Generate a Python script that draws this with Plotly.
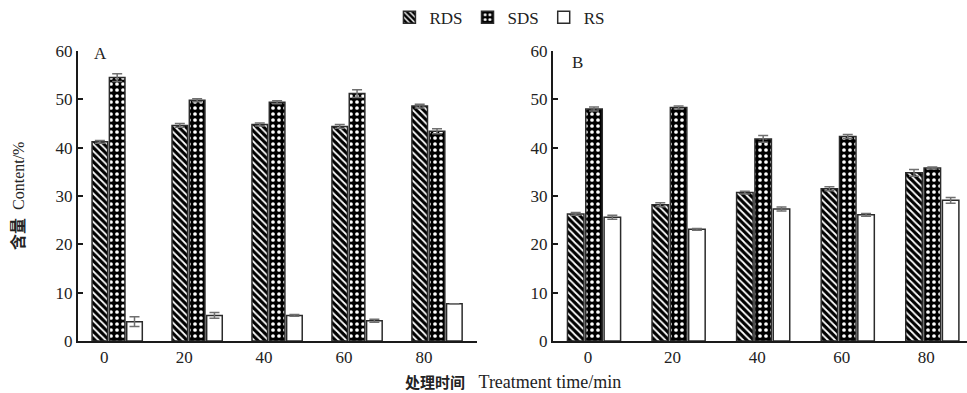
import plotly.graph_objects as go

categories = ["0", "20", "40", "60", "80"]
series_names = ["RDS", "SDS", "RS"]

# Panel A values (%) and standard errors
a_rds = [41.2, 44.6, 44.8, 44.4, 48.6]
a_rds_err = [0.3, 0.4, 0.3, 0.4, 0.4]
a_sds = [54.5, 49.8, 49.4, 51.2, 43.4]
a_sds_err = [0.8, 0.3, 0.3, 0.8, 0.5]
a_rs = [4.0, 5.3, 5.3, 4.2, 7.7]
a_rs_err = [1.0, 0.6, 0.2, 0.3, 0.0]

# Panel B values (%) and standard errors
b_rds = [26.3, 28.2, 30.7, 31.5, 34.8]
b_rds_err = [0.3, 0.4, 0.3, 0.4, 0.7]
b_sds = [48.0, 48.3, 41.8, 42.3, 35.8]
b_sds_err = [0.4, 0.3, 0.7, 0.4, 0.2]
b_rs = [25.6, 23.1, 27.3, 26.1, 29.1]
b_rs_err = [0.4, 0.2, 0.4, 0.3, 0.6]

FONT = "Liberation Serif, Times New Roman, Noto Sans CJK SC, serif"
DARK = "#1a1a1a"
EDGE = "#2b2b2b"
ERR = "#6f6f6f"

styles = {
    "RDS": dict(color="black", pattern=dict(shape="\\", fgcolor="white", bgcolor="black",
                                            size=5, solidity=0.35, fillmode="replace")),
    "SDS": dict(color="black", pattern=dict(shape=".", fgcolor="white", bgcolor="black",
                                            size=6, solidity=0.3, fillmode="replace")),
    "RS": dict(color="white", pattern=dict(shape="")),
}

fig = go.Figure()

panels = [
    ("x", "y", [a_rds, a_sds, a_rs], [a_rds_err, a_sds_err, a_rs_err], True),
    ("x2", "y2", [b_rds, b_sds, b_rs], [b_rds_err, b_sds_err, b_rs_err], False),
]

for xa, ya, vals, errs, show in panels:
    for name, v, e in zip(series_names, vals, errs):
        st = styles[name]
        fig.add_trace(go.Bar(
            x=categories, y=v, name=name, xaxis=xa, yaxis=ya,
            legendgroup=name, showlegend=show,
            marker=dict(color=st["color"], pattern=st["pattern"],
                        line=dict(color=EDGE, width=1.5)),
            error_y=dict(type="data", array=e, visible=True, color=ERR,
                         thickness=1.5, width=5),
        ))

axis_common = dict(showline=True, linecolor=DARK, linewidth=2, mirror=False,
                   showgrid=False, zeroline=False,
                   tickfont=dict(family=FONT, size=17, color="#222"))

fig.update_layout(
    width=967, height=393,
    margin=dict(l=0, r=0, t=51, b=52, autoexpand=False),
    paper_bgcolor="white", plot_bgcolor="white",
    barmode="group", bargap=0.35, bargroupgap=0.1,
    font=dict(family=FONT, size=16, color="#222"),
    showlegend=True,
    legend=dict(orientation="h", x=0.517, xanchor="center", y=1.115, yanchor="middle",
                font=dict(family=FONT, size=17, color="#222"),
                itemwidth=30, traceorder="normal", bgcolor="rgba(0,0,0,0)"),
    xaxis=dict(domain=[78 / 967, 477 / 967], anchor="y", type="category",
               range=[-0.49, 4.5], ticks="", ticklabelshift=-13, **axis_common),
    yaxis=dict(domain=[0, 1], anchor="x", range=[0, 60], dtick=10,
               ticks="inside", ticklen=5, tickcolor=DARK, tickwidth=1.5, **axis_common),
    xaxis2=dict(domain=[553 / 967, 1.0], anchor="y2", type="category",
                range=[-0.485, 4.41], ticks="", ticklabelshift=-6, **axis_common),
    yaxis2=dict(domain=[0, 1], anchor="x2", range=[0, 60], dtick=10,
                ticks="inside", ticklen=5, tickcolor=DARK, tickwidth=1.5, **axis_common),
)

fig.add_annotation(text="A", x=0.035, y=0.99, xref="x domain", yref="y domain",
                   xanchor="left", yanchor="middle", showarrow=False,
                   font=dict(family=FONT, size=17, color="#222"))
fig.add_annotation(text="B", x=0.04, y=0.96, xref="x2 domain", yref="y2 domain",
                   xanchor="left", yanchor="middle", showarrow=False,
                   font=dict(family=FONT, size=17, color="#222"))
fig.add_annotation(text="<b>含量</b>  Content/%", x=18 / 967, y=0.5, xref="paper", yref="paper",
                   textangle=-90, xanchor="center", yanchor="middle", showarrow=False,
                   font=dict(family=FONT, size=16, color="#222"))
fig.add_annotation(text="<span style='font-size:15px'><b>处理时间</b></span>   Treatment time/min",
                   x=513 / 967, y=-41 / 290,
                   xref="paper", yref="paper", xanchor="center", yanchor="middle",
                   showarrow=False, font=dict(family=FONT, size=18, color="#222"))

fig.write_html("out.html", post_script="document.body.style.margin='0';",
               config={"displayModeBar": False})
